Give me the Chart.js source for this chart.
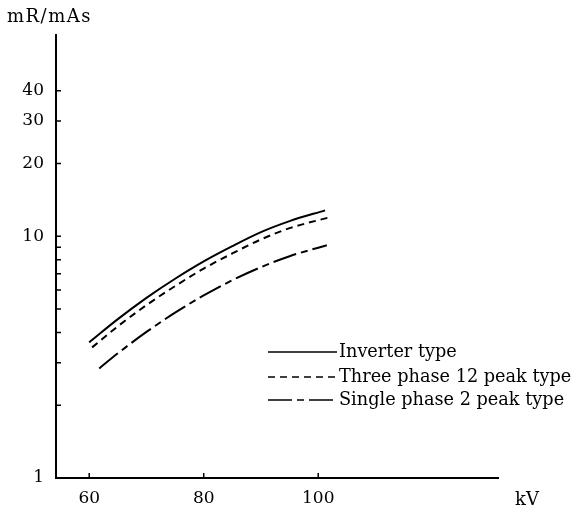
<!DOCTYPE html>
<html>
<head>
<meta charset="utf-8">
<script src="https://cdn.jsdelivr.net/npm/chart.js@4/dist/chart.umd.min.js"></script>
<style>
  html, body { margin: 0; padding: 0; background: #fff; }
  #wrap { width: 575px; height: 512px; }
</style>
</head>
<body>
<div id="wrap"><canvas id="c" width="575" height="512"></canvas></div>
<script>
// values (kV, mR/mAs)
const inverterKv = [60, 65, 70, 75, 80, 85, 90, 95, 101.2];
const inverterMr = [3.64, 4.54, 5.56, 6.67, 7.87, 9.1, 10.4, 11.55, 12.8];
const threePhaseKv = [60.5, 65, 70, 75, 80, 85, 90, 95, 102.1];
const threePhaseMr = [3.47, 4.24, 5.19, 6.22, 7.35, 8.49, 9.7, 10.8, 12.0];
const singlePhaseKv = [61.75, 65, 70, 75, 80, 85, 90, 95, 101.5];
const singlePhaseMr = [2.84, 3.28, 4.02, 4.83, 5.69, 6.58, 7.45, 8.27, 9.18];

const yTicks = [1, 2, 3, 4, 5, 6, 7, 8, 9, 10, 20, 30, 40];
const yLabels = [1, 10, 20, 30, 40];
const xTicks = [60, 80, 100];
const seriesNames = ['Inverter type', 'Three phase 12 peak type', 'Single phase 2 peak type'];

const FONT = '"DejaVu Serif", serif';

function pts(xs, ys) {
  return xs.map((x, i) => ({ x: x, y: ys[i] }));
}

// inward ticks, axis titles and the legend block
const decorations = {
  id: 'decorations',
  afterDraw(chart) {
    const ctx = chart.ctx;
    const xs = chart.scales.x;
    const ys = chart.scales.y;
    const area = chart.chartArea;
    ctx.save();
    ctx.strokeStyle = '#000';
    ctx.lineWidth = 1.5;
    ctx.beginPath();
    yTicks.forEach(v => {
      if (v === 1) return;
      const py = ys.getPixelForValue(v);
      ctx.moveTo(area.left, py);
      ctx.lineTo(area.left + 5, py);
    });
    xTicks.forEach(v => {
      const px = xs.getPixelForValue(v);
      ctx.moveTo(px, area.bottom);
      ctx.lineTo(px, area.bottom - 5);
    });
    ctx.stroke();

    ctx.fillStyle = '#000';
    ctx.font = '18px ' + FONT;
    ctx.textBaseline = 'alphabetic';
    ctx.textAlign = 'left';
    ctx.letterSpacing = '1.5px';
    ctx.fillText('mR/mAs', 7, 22);
    ctx.letterSpacing = '0px';
    ctx.fillText('kV', 515, 505);

    // legend
    ctx.font = '17.7px ' + FONT;
    const rows = [352, 377, 400];
    chart.data.datasets.forEach((ds, i) => {
      const y = rows[i];
      ctx.beginPath();
      ctx.lineWidth = 1.5;
      ctx.setLineDash(ds.borderDash || []);
      ctx.moveTo(268, y);
      ctx.lineTo(337, y);
      ctx.stroke();
      ctx.setLineDash([]);
      ctx.textBaseline = 'middle';
      ctx.fillText(ds.label, 339, y);
    });
    ctx.restore();
  }
};

new Chart(document.getElementById('c'), {
  type: 'line',
  data: {
    datasets: [
      {
        label: seriesNames[0],
        data: pts(inverterKv, inverterMr),
        borderColor: '#000',
        borderWidth: 2,
        borderDash: [],
      },
      {
        label: seriesNames[1],
        data: pts(threePhaseKv, threePhaseMr),
        borderColor: '#000',
        borderWidth: 2,
        borderDash: [7, 5],
      },
      {
        label: seriesNames[2],
        data: pts(singlePhaseKv, singlePhaseMr),
        borderColor: '#000',
        borderWidth: 2,
        borderDash: [24, 5, 7, 5],
      },
    ],
  },
  options: {
    responsive: false,
    animation: false,
    maintainAspectRatio: false,
    layout: { padding: { top: 35, right: 77, left: 0, bottom: 0 } },
    elements: {
      point: { radius: 0 },
      line: { cubicInterpolationMode: 'monotone', fill: false },
    },
    plugins: {
      legend: { display: false },
      tooltip: { enabled: false },
    },
    scales: {
      x: {
        type: 'linear',
        min: 54.2,
        max: 131.4,
        grid: { display: false, drawTicks: false },
        border: { display: true, color: '#000', width: 2 },
        afterBuildTicks(scale) {
          scale.ticks = xTicks.map(v => ({ value: v }));
        },
        afterFit(scale) { scale.height = 34; },
        ticks: {
          padding: 10,
          color: '#000',
          font: { family: FONT, size: 17 },
          maxRotation: 0,
        },
      },
      y: {
        type: 'logarithmic',
        min: 1,
        max: 68,
        grid: { display: false, drawTicks: false },
        border: { display: true, color: '#000', width: 2 },
        afterBuildTicks(scale) {
          scale.ticks = yTicks.map(v => ({ value: v }));
        },
        afterFit(scale) { scale.width = 56; },
        ticks: {
          padding: 12,
          color: '#000',
          font: { family: FONT, size: 17 },
          autoSkip: false,
          callback(v) { return yLabels.includes(v) ? String(v) : ''; },
        },
      },
    },
  },
  plugins: [decorations],
});
</script>
</body>
</html>
